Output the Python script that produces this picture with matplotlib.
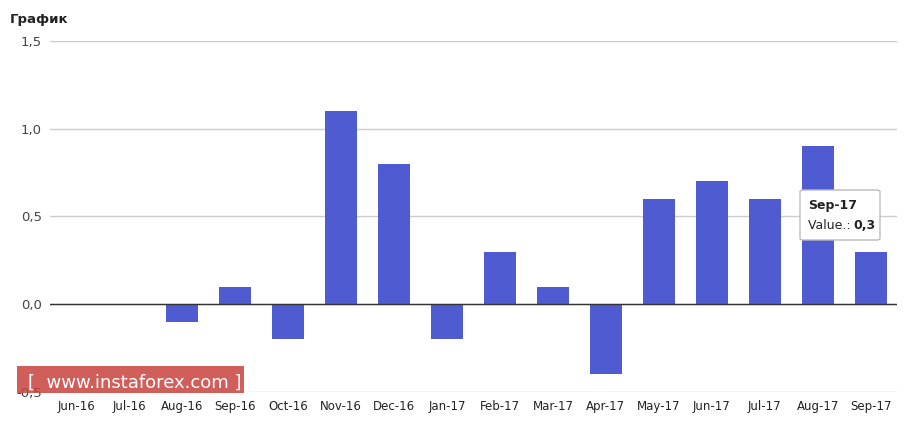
import matplotlib.pyplot as plt
from matplotlib.patches import FancyBboxPatch

months = ['Jun-16', 'Jul-16', 'Aug-16', 'Sep-16', 'Oct-16', 'Nov-16', 'Dec-16', 'Jan-17',
          'Feb-17', 'Mar-17', 'Apr-17', 'May-17', 'Jun-17', 'Jul-17', 'Aug-17', 'Sep-17']
values = [0.0, 0.0, -0.1, 0.1, -0.2, 1.1, 0.8, -0.2, 0.3, 0.1, -0.4, 0.6, 0.7, 0.6, 0.9, 0.3]
yticks = [-0.5, 0.0, 0.5, 1.0, 1.5]

fig = plt.figure(figsize=(9.09, 4.21), dpi=100)
ax = fig.add_axes([0.055, 0.069, 0.932, 0.834])

x = range(len(months))
ax.bar(x, values, width=0.6, color='#4f5bd0', zorder=3)
ax.axhline(0, color='#333333', lw=1, zorder=4)

ax.set_xlim(-0.5, len(months) - 0.5)
ax.set_ylim(-0.5, 1.5)
ax.set_yticks(yticks)
ax.set_yticklabels([('%.1f' % v).replace('.', ',') for v in yticks], color='#444444', fontsize=9.5)
ax.set_xticks(list(x))
ax.set_xticklabels(months, color='#222222', fontsize=8.5)
ax.tick_params(length=0, pad=6)
ax.grid(axis='y', color='#cccccc', lw=1, zorder=0)
for s in ax.spines.values():
    s.set_visible(False)

fig.text(0.011, 0.945, 'График', fontsize=9.5, fontweight='bold', color='#222222')

# tooltip
box = FancyBboxPatch((800 / 909, 1 - 240 / 421), 80 / 909, 50 / 421,
                     boxstyle='round,pad=0,rounding_size=0.004', transform=fig.transFigure,
                     facecolor='white', edgecolor='#bbbbbb', lw=1, zorder=10)
fig.patches.append(box)
fig.text(808 / 909, 1 - 209 / 421, 'Sep-17', fontsize=9, fontweight='bold', color='#222222', zorder=11)
fig.text(808 / 909, 1 - 229 / 421, 'Value.: ', fontsize=9, color='#222222', zorder=11)
fig.text(853 / 909, 1 - 229 / 421, '0,3', fontsize=9, fontweight='bold', color='#222222', zorder=11)

# watermark
wm = FancyBboxPatch((17 / 909, 1 - 393 / 421), 227 / 909, 27 / 421, boxstyle='square,pad=0',
                    transform=fig.transFigure, facecolor='#c8433f', alpha=0.85, edgecolor='none', zorder=10)
fig.patches.append(wm)
fig.text(28 / 909, 1 - 388 / 421, '[  www.instaforex.com ]', fontsize=13, color='white', zorder=11)

plt.savefig('out.png', dpi=100)
